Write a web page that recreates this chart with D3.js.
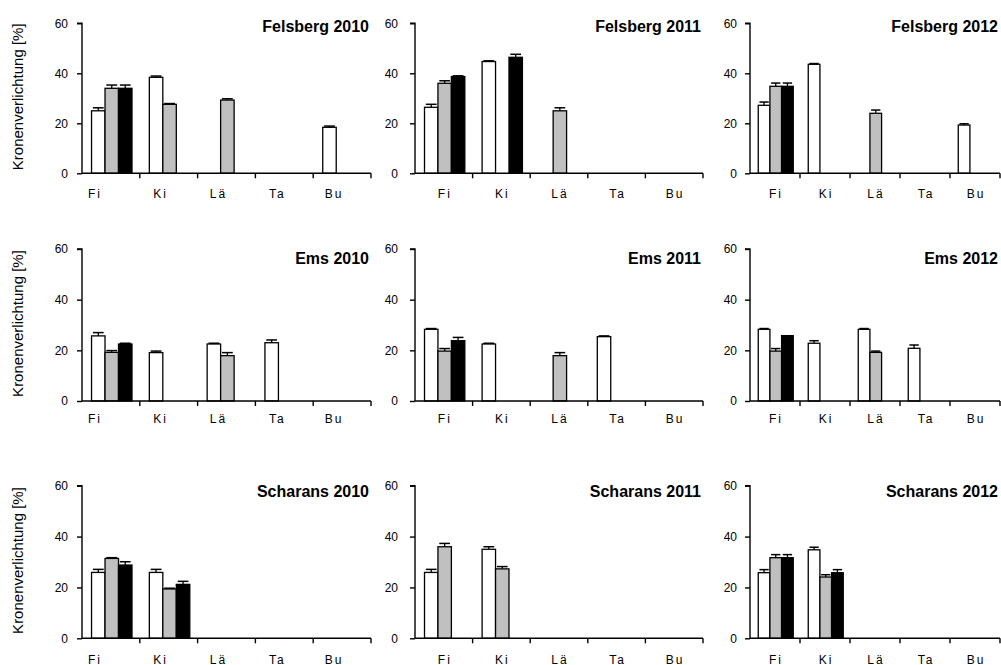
<!DOCTYPE html>
<html><head><meta charset="utf-8">
<script src="https://cdn.jsdelivr.net/npm/d3@7"></script>
<style>body{margin:0;background:#fff}svg{display:block}text{font-family:"Liberation Sans",Arial,sans-serif;fill:#000}</style>
</head><body>
<svg id="chart" width="1001" height="665"></svg>
<script>
const categories = ["Fi","Ki","Lä","Ta","Bu"];
const yTicks = [0,20,40,60];
const yLabel = "Kronenverlichtung [%]";
const sites = ["Felsberg","Ems","Scharans"];
const years = ["2010","2011","2012"];
const seriesFill = ["#ffffff","#c0c0c0","#000000"];

// values: [white series, gray series, black series] per category
const felsberg2010 = [[25.0,38.4,null,null,18.4],[34.0,27.6,29.3,null,null],[34.0,null,null,null,null]];
const felsberg2010Err = [[1.2,0.5,0,0,0.5],[1.3,0.3,0.5,0,0],[1.3,0,0,0,0]];
const felsberg2011 = [[26.4,44.7,null,null,null],[36.0,null,25.0,null,null],[38.7,46.4,null,null,null]];
const felsberg2011Err = [[1.2,0.3,0,0,0],[1.0,0,1.2,0,0],[0.3,1.2,0,0,0]];
const felsberg2012 = [[27.2,43.6,null,null,19.3],[34.8,null,24.0,null,null],[34.8,null,null,null,null]];
const felsberg2012Err = [[1.3,0.3,0,0,0.5],[1.3,0,1.3,0,0],[1.3,0,0,0,0]];

const ems2010 = [[25.7,19.1,22.5,23.0,null],[19.2,null,17.9,null,null],[22.5,null,null,null,null]];
const ems2010Err = [[1.3,0.6,0.3,1.1,0],[0.7,0,1.2,0,0],[0.3,0,0,0,0]];
const ems2011 = [[28.3,22.5,null,25.4,null],[19.7,null,17.9,null,null],[23.8,null,null,null,null]];
const ems2011Err = [[0.3,0.3,0,0.3,0],[1.0,0,1.2,0,0],[1.3,0,0,0,0]];
const ems2012 = [[28.3,22.8,28.3,20.8,null],[19.7,null,19.2,null,null],[25.8,null,null,null,null]];
const ems2012Err = [[0.3,1.0,0.3,1.3,0],[1.0,0,0.5,0,0],[0,0,0,0,0]];

const scharans2010 = [[25.9,25.9,null,null,null],[31.4,19.4,null,null,null],[28.8,21.2,null,null,null]];
const scharans2010Err = [[1.2,1.2,0,0,0],[0.3,0.3,0,0,0],[1.3,1.2,0,0,0]];
const scharans2011 = [[25.9,35.0,null,null,null],[36.0,27.3,null,null,null],[null,null,null,null,null]];
const scharans2011Err = [[1.2,1.0,0,0,0],[1.3,0.9,0,0,0],[0,0,0,0,0]];
const scharans2012 = [[25.8,34.8,null,null,null],[31.7,24.1,null,null,null],[31.7,25.8,null,null,null]];
const scharans2012Err = [[1.2,1.0,0,0,0],[1.2,0.9,0,0,0],[1.2,1.2,0,0,0]];

const panelValues = [
  [felsberg2010, felsberg2011, felsberg2012],
  [ems2010, ems2011, ems2012],
  [scharans2010, scharans2011, scharans2012]];
const panelErrors = [
  [felsberg2010Err, felsberg2011Err, felsberg2012Err],
  [ems2010Err, ems2011Err, ems2012Err],
  [scharans2010Err, scharans2011Err, scharans2012Err]];

// layout
const cols = [{x0:82,x1:371,tickDx:-14,labelShift:[-17,-9,-9,-8,-9]},
              {x0:415,x1:703,tickDx:-17,labelShift:[0,0,0,0,0]},
              {x0:750,x1:1000,tickDx:-13,labelShift:[0,0,0,0,0]}];
const rows = [{y0:173.3,y1:23.3,title:32,label:197.5},
              {y0:401,y1:249,title:263.5,label:422.5},
              {y0:638.3,y1:485.7,title:497,label:663.5}];

const svg = d3.select("#chart");

rows.forEach((r, ri) => {
  cols.forEach((c, ci) => {
    const g = svg.append("g");
    const x = d3.scaleBand().domain(categories).range([c.x0, c.x1]);
    const bw = x.bandwidth();
    const sub = d3.scaleBand().domain([0,1,2]).range([bw*0.165, bw*0.165 + bw*0.70]);
    const y = d3.scaleLinear().domain([0,60]).range([r.y0, r.y1]);
    const vals = panelValues[ri][ci];
    const errs = panelErrors[ri][ci];

    const data = [];
    vals.forEach((s, si) => s.forEach((v, k) => {
      if (v != null) data.push({cat: categories[k], s: si, v, e: errs[si][k]});
    }));

    // bars
    g.selectAll("rect.bar").data(data).enter().append("rect")
      .attr("x", d => x(d.cat) + sub(d.s))
      .attr("y", d => y(d.v))
      .attr("width", sub.bandwidth())
      .attr("height", d => y(0) - y(d.v))
      .attr("fill", d => seriesFill[d.s])
      .attr("stroke", "#000").attr("stroke-width", 1.3);

    // error bars
    const eb = g.selectAll("g.err").data(data.filter(d => d.e > 0)).enter().append("g");
    eb.append("line")
      .attr("x1", d => x(d.cat) + sub(d.s) + sub.bandwidth()/2)
      .attr("x2", d => x(d.cat) + sub(d.s) + sub.bandwidth()/2)
      .attr("y1", d => y(d.v)).attr("y2", d => y(d.v + d.e))
      .attr("stroke", "#000").attr("stroke-width", 1.3);
    eb.append("line")
      .attr("x1", d => x(d.cat) + sub(d.s) + sub.bandwidth()*0.1)
      .attr("x2", d => x(d.cat) + sub(d.s) + sub.bandwidth()*0.9)
      .attr("y1", d => y(d.v + d.e)).attr("y2", d => y(d.v + d.e))
      .attr("stroke", "#000").attr("stroke-width", 1.5);

    // y axis
    const yAxis = d3.axisLeft(y).tickValues(yTicks).tickSize(5).tickPadding(9 + (-c.tickDx - 14));
    const ya = g.append("g").attr("transform", `translate(${c.x0},0)`).call(yAxis);
    ya.select(".domain").attr("stroke-width", 1.4).attr("d", `M-5,${r.y1}H0V${r.y0}`);
    ya.selectAll(".tick line").attr("stroke-width", 1.4);
    ya.selectAll(".tick text").style("font-size", "12px").style("font-family", '"Liberation Sans",Arial,sans-serif');

    // x axis line and boundary ticks
    g.append("line").attr("x1", c.x0).attr("x2", c.x1).attr("y1", r.y0).attr("y2", r.y0)
      .attr("stroke", "#000").attr("stroke-width", 1.4);
    const bounds = categories.map(k => x(k) + bw);
    g.selectAll("line.xt").data(bounds).enter().append("line")
      .attr("x1", d => d).attr("x2", d => d).attr("y1", r.y0).attr("y2", r.y0 + 5)
      .attr("stroke", "#000").attr("stroke-width", 1.4);

    // category labels
    g.selectAll("text.cat").data(categories).enter().append("text")
      .attr("x", (d, i) => x(d) + bw/2 + c.labelShift[i] + 1)
      .attr("y", r.label)
      .attr("text-anchor", "middle")
      .style("font-size", "12px").style("letter-spacing", "2px")
      .text(d => d);

    // title
    g.append("text").attr("x", c.x1 - 2).attr("y", r.title)
      .attr("text-anchor", "end").style("font-size", "16px").style("font-weight", "bold")
      .text(sites[ri] + " " + years[ci]);

    // y label for first column
    if (ci === 0) {
      g.append("text")
        .attr("transform", `translate(22.5,${(r.y0 + r.y1)/2 - 1.5}) rotate(-90)`)
        .attr("text-anchor", "middle")
        .style("font-size", "15px")
        .text(yLabel);
    }
  });
});
</script>
</body></html>
